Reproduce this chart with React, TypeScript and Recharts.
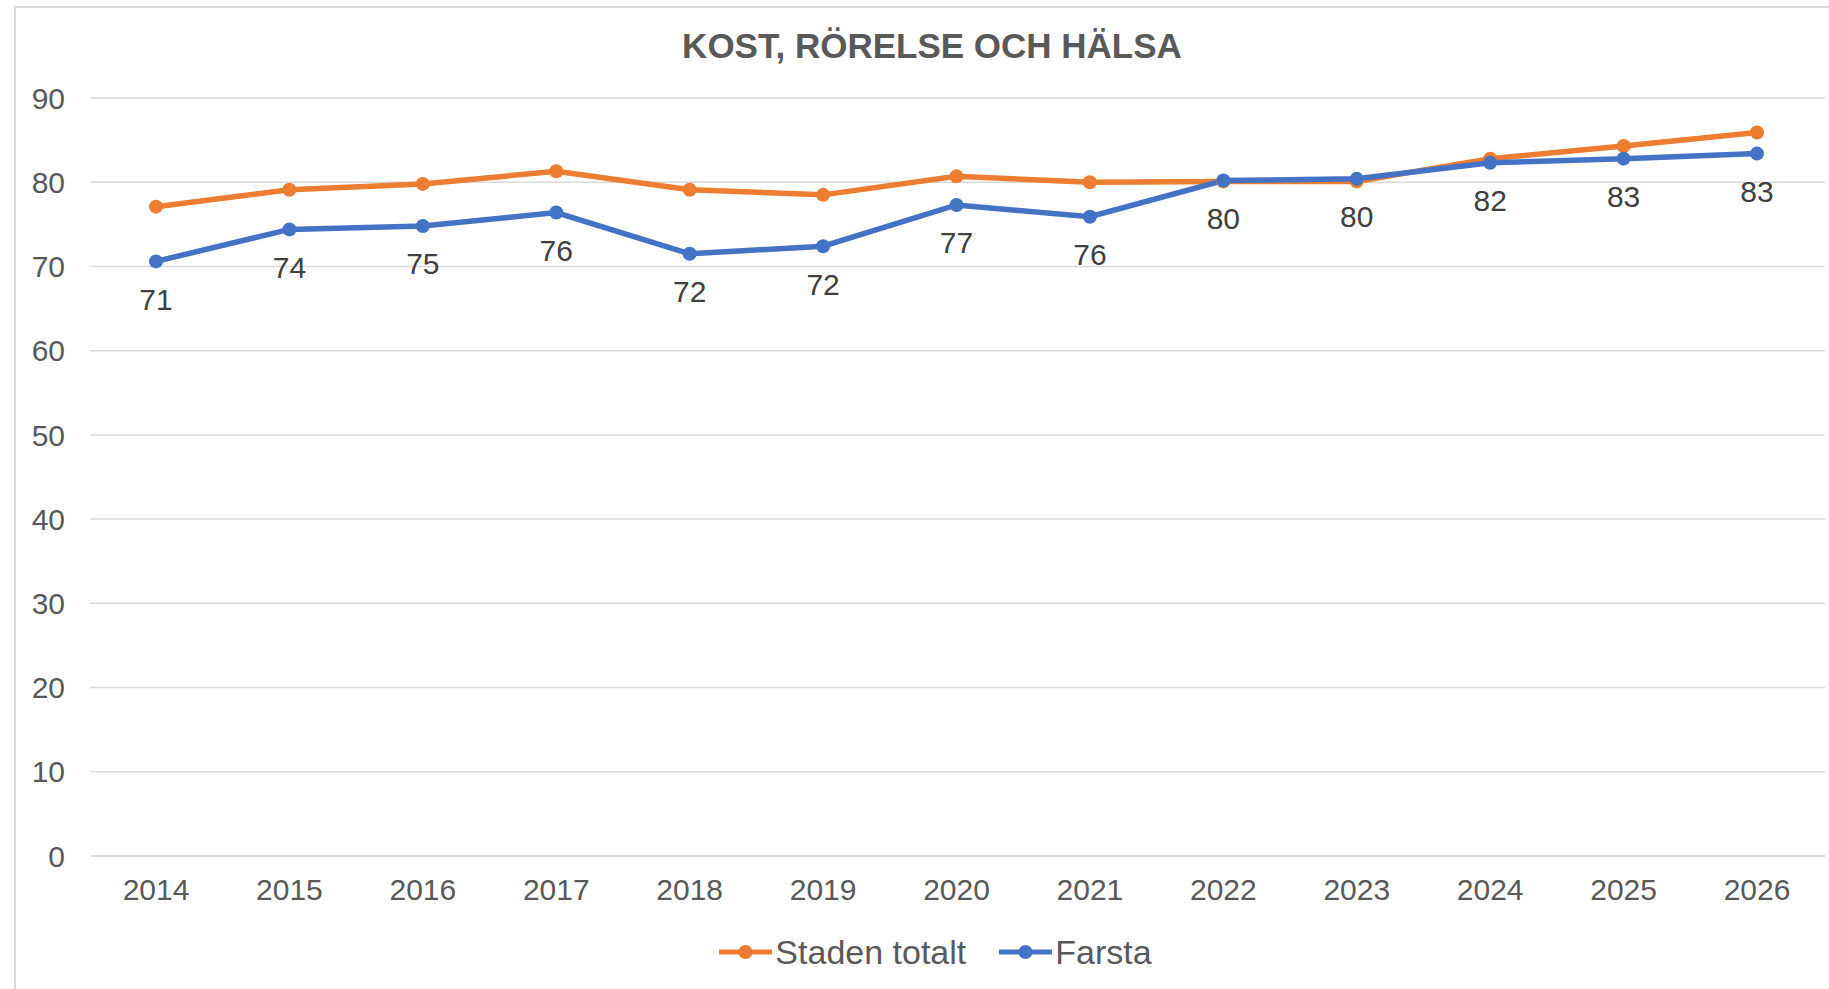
import React from 'react';
import { LineChart, Line, XAxis, YAxis, CartesianGrid, Legend, LabelList } from 'recharts';

const years = ['2014', '2015', '2016', '2017', '2018', '2019', '2020', '2021', '2022', '2023', '2024', '2025', '2026'];
const stadenTotalt = [77.1, 79.1, 79.8, 81.3, 79.1, 78.5, 80.7, 80.0, 80.1, 80.1, 82.8, 84.3, 85.9];
const farsta = [70.6, 74.4, 74.8, 76.4, 71.5, 72.4, 77.3, 75.9, 80.2, 80.4, 82.3, 82.8, 83.4];
const yTicks = [0, 10, 20, 30, 40, 50, 60, 70, 80, 90];

const ORANGE = '#ED7D31';
const BLUE = '#4472C4';
const TEXT = '#595959';
const FONT = '"Liberation Sans", Arial, sans-serif';

const data = years.map((year, i) => ({
  year,
  staden: stadenTotalt[i],
  farsta: farsta[i],
}));

const legendItems = [
  { name: 'Staden totalt', color: ORANGE },
  { name: 'Farsta', color: BLUE },
];

function LegendContent() {
  return (
    <div style={{ display: 'flex', justifyContent: 'center', alignItems: 'center', fontFamily: FONT }}>
      {legendItems.map((item, i) => (
        <div key={item.name} style={{ display: 'flex', alignItems: 'center', marginLeft: i ? 33 : 0 }}>
          <svg width={53} height={16} style={{ marginRight: 3 }}>
            <line x1={0} y1={8} x2={53} y2={8} stroke={item.color} strokeWidth={5} />
            <circle cx={26.5} cy={8} r={7} fill={item.color} />
          </svg>
          <span style={{ fontSize: 34, color: TEXT, lineHeight: '38px' }}>{item.name}</span>
        </div>
      ))}
    </div>
  );
}

export default function App() {
  return (
    <div style={{ position: 'absolute', left: 0, top: 0, width: 1829, height: 989, overflow: 'hidden', background: '#fff' }}>
      {/* chart frame */}
      <div
        style={{
          position: 'absolute',
          left: 14,
          top: 6,
          width: 1840,
          height: 1000,
          border: '2px solid #D9D9D9',
          boxSizing: 'border-box',
        }}
      />
      <div
        style={{
          position: 'absolute',
          left: 0,
          top: 26,
          width: 1864,
          textAlign: 'center',
          fontFamily: FONT,
          fontWeight: 'bold',
          fontSize: 35,
          letterSpacing: 0,
          color: TEXT,
          lineHeight: '40px',
        }}
      >
        KOST, RÖRELSE OCH HÄLSA
      </div>
      <LineChart
        width={1829}
        height={989}
        data={data}
        margin={{ top: 98, right: 4, bottom: 73, left: 0 }}
        style={{ position: 'absolute', left: 0, top: 0 }}
      >
        <CartesianGrid vertical={false} stroke="#D9D9D9" strokeWidth={1.5} />
        <XAxis
          dataKey="year"
          height={60}
          padding={{ left: 66, right: 68 }}
          axisLine={{ stroke: '#D9D9D9', strokeWidth: 1.5 }}
          tickLine={false}
          tickSize={0}
          tickMargin={23}
          tick={{ fill: TEXT, fontSize: 30, fontFamily: FONT }}
        />
        <YAxis
          width={90}
          domain={[0, 90]}
          ticks={yTicks}
          axisLine={false}
          tickLine={false}
          tickSize={0}
          tickMargin={25}
          tick={{ fill: TEXT, fontSize: 30, fontFamily: FONT }}
        />
        <Legend
          layout="horizontal"
          verticalAlign="middle"
          align="center"
          wrapperStyle={{ top: 933, left: 21, width: 1829 }}
          content={<LegendContent />}
        />
        <Line
          type="linear"
          dataKey="staden"
          name="Staden totalt"
          stroke={ORANGE}
          strokeWidth={5.5}
          dot={{ r: 7, fill: ORANGE, stroke: 'none' }}
          activeDot={false}
          isAnimationActive={false}
        />
        <Line
          type="linear"
          dataKey="farsta"
          name="Farsta"
          stroke={BLUE}
          strokeWidth={5.5}
          dot={{ r: 7, fill: BLUE, stroke: 'none' }}
          activeDot={false}
          isAnimationActive={false}
        >
          <LabelList
            dataKey="farsta"
            position="bottom"
            offset={27}
            formatter={(v: number) => Math.round(v)}
            style={{ fill: '#404040', fontSize: 30, fontFamily: FONT }}
          />
        </Line>
      </LineChart>
    </div>
  );
}
